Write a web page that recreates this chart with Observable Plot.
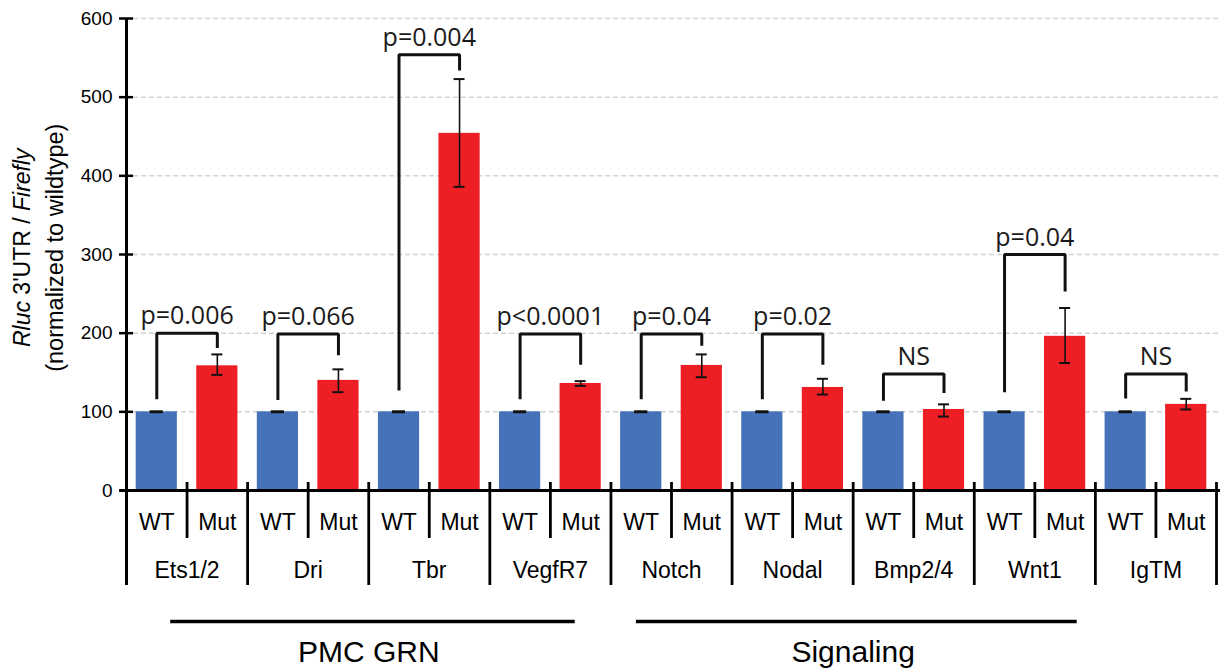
<!DOCTYPE html>
<html><head><meta charset="utf-8">
<script src="https://cdn.jsdelivr.net/npm/d3@7"></script>
<script src="https://cdn.jsdelivr.net/npm/@observablehq/plot@0.6"></script>
<style>body{margin:0;background:#fff}</style>
</head><body><div id="chart"></div>
<script>
// ---- data ----
const genes = ["Ets1/2","Dri","Tbr","VegfR7","Notch","Nodal","Bmp2/4","Wnt1","IgTM"];
const conditions = ["WT","Mut"];
const wtValues   = [100,100,100,100,100,100,100,100,100];
const wtErrLow   = [100,100,100,100,100,100,100,100,100];
const wtErrHigh  = [100,100,100,100,100,100,100,100,100];
const mutValues  = [158.5,140,454,136,159,131,103,196,109.5];
const mutErrLow  = [147,125,386,133,144,122,94,162,103];
const mutErrHigh = [173,154,523,139,173,142,109.5,232,116.5];
const pLabels    = ["p=0.006","p=0.066","p=0.004","p<0.0001","p=0.04","p=0.02","NS","p=0.04","NS"];
const bracketTop   = [200,199,554,199,199,199,148,300,148];
const bracketLeft  = [116,115,127,116,116,116,114,125,117];
const bracketRight = [181,172,534,160,184,160,124,253,126];
const groupNames = ["PMC GRN","Signaling"];
const groupFirst = [0,4];
const groupLast  = [3,7];
const yTicks = [0,100,200,300,400,500,600];

// ---- layout ----
const W = 1220, H = 671, mL = 126, mR = 4, mT = 18, mB = 181;
const pxPerUnitY = (H - mB - mT) / 600;
const below = px => -px / pxPerUnitY;          // pixels below the x axis -> y units
const pxPerUnitX = (W - mL - mR) / 18;
const hx = px => px / pxPerUnitX;               // pixels -> x units
const groupInsetStart = [0.73, 0.42];
const groupInsetEnd   = [0.59, 0.30];

const bars = genes.flatMap((g, i) => [
  {gene: g, cond: conditions[0], idx: 2*i,   value: wtValues[i],  lo: wtErrLow[i],  hi: wtErrHigh[i]},
  {gene: g, cond: conditions[1], idx: 2*i+1, value: mutValues[i], lo: mutErrLow[i], hi: mutErrHigh[i]}
]);
const caps = bars.flatMap(d => [{idx: d.idx, y: d.lo, wt: d.cond === "WT"}, {idx: d.idx, y: d.hi, wt: d.cond === "WT"}]);
const bracketPts = genes.flatMap((g, i) => [
  {gene: g, x: 2*i+0.5, y: bracketLeft[i]},
  {gene: g, x: 2*i+0.5, y: bracketTop[i]},
  {gene: g, x: 2*i+1.5, y: bracketTop[i]},
  {gene: g, x: 2*i+1.5, y: bracketRight[i]}
]);
const groups = groupNames.map((n, k) => ({name: n, first: groupFirst[k], last: groupLast[k], k}));

const sans = "'Liberation Sans', Arial, sans-serif";
const pfont = "'Open Sans', 'DejaVu Sans', sans-serif";

const plot = Plot.plot({
  width: W, height: H,
  marginLeft: mL, marginRight: mR, marginTop: mT, marginBottom: mB,
  x: {domain: [0, 18], axis: null},
  y: {domain: [0, 600], axis: null},
  style: {fontFamily: sans, background: "white", color: "black", overflow: "visible"},
  marks: [
    Plot.ruleY(yTicks.filter(d => d > 0), {y: d => d, x1: hx(7), x2: hx(W - mL), stroke: "#d2d2d2", strokeWidth: 1.5, strokeDasharray: "5,3"}),
    Plot.rectY(bars.filter(d => d.cond === "WT"), {x1: d => d.idx + 0.16, x2: d => d.idx + 0.84, y1: 0, y2: "value", fill: "#4672b9"}),
    Plot.rectY(bars.filter(d => d.cond === "Mut"), {x1: d => d.idx + 0.16, x2: d => d.idx + 0.84, y1: 0, y2: "value", fill: "#ed1f24"}),
    Plot.ruleX(bars, {x: d => d.idx + 0.5, y1: "lo", y2: "hi", stroke: "#111", strokeWidth: 1.6}),
    Plot.ruleY(caps, {y: "y", x1: d => d.idx + 0.5 - hx(d.wt ? 6.5 : 5.5), x2: d => d.idx + 0.5 + hx(d.wt ? 6.5 : 5.5), stroke: "#111", strokeWidth: d => d.wt ? 2.6 : 2}),
    Plot.line(bracketPts, {x: "x", y: "y", z: "gene", stroke: "#111", strokeWidth: 3, strokeLinejoin: "miter", strokeLinecap: "butt"}),
    Plot.text(genes, {x: (d, i) => 2*i + 1, y: (d, i) => bracketTop[i], text: (d, i) => pLabels[i], lineAnchor: "bottom", dy: -9, fontSize: 25, fontFamily: pfont, fill: "#1a1a1a"}),
    // y axis
    Plot.ruleY(yTicks, {y: d => d, x1: -hx(7), x2: hx(7), stroke: "black", strokeWidth: 2.5}),
    Plot.text(yTicks, {x: 0, y: d => d, text: d => String(d), textAnchor: "end", dx: -14, fontSize: 19, fill: "black"}),
    Plot.ruleX([0], {y1: 600, y2: below(95), stroke: "black", strokeWidth: 3}),
    // x axis line and category table
    Plot.ruleY([0], {x1: -hx(7), x2: hx(W - mL), stroke: "black", strokeWidth: 3}),
    Plot.ruleX(d3.range(1, 10).map(i => 2*i), {x: d => d, y1: below(-8), y2: below(95), stroke: "black", strokeWidth: 2.8}),
    Plot.ruleX(d3.range(9).map(i => 2*i + 1), {x: d => d, y1: below(-8), y2: below(48), stroke: "black", strokeWidth: 2.8}),
    Plot.text(bars, {x: d => d.idx + 0.5, y: below(32), text: "cond", fontSize: 23, lineAnchor: "middle", fill: "black"}),
    Plot.text(genes, {x: (d, i) => 2*i + 1, y: below(80), text: d => d, fontSize: 23, lineAnchor: "middle", fill: "black"}),
    Plot.ruleY(groups, {y: below(131), x1: g => 2*g.first + groupInsetStart[g.k], x2: g => 2*(g.last + 1) - groupInsetEnd[g.k], stroke: "black", strokeWidth: 3.5}),
    Plot.text(groups, {x: g => g.first + g.last + 1, y: below(162), text: "name", fontSize: 30, lineAnchor: "middle", fill: "black"})
  ]
});

// y-axis title with italic parts, positioned using the plot's y scale
const yc = plot.scale("y").apply(308);
const svg = d3.select(plot);
const t1 = svg.append("text").attr("transform", `translate(30,${yc}) rotate(-90)`)
  .attr("text-anchor", "middle").attr("font-size", 23).attr("font-family", sans).attr("fill", "black");
t1.append("tspan").attr("font-style", "italic").text("Rluc");
t1.append("tspan").text(" 3'UTR / ");
t1.append("tspan").attr("font-style", "italic").text("Firefly");
svg.append("text").attr("transform", `translate(63,${yc}) rotate(-90)`)
  .attr("text-anchor", "middle").attr("font-size", 23.5).attr("font-family", sans).attr("fill", "black")
  .text("(normalized to wildtype)");

document.getElementById("chart").appendChild(plot);
</script>
</body></html>
